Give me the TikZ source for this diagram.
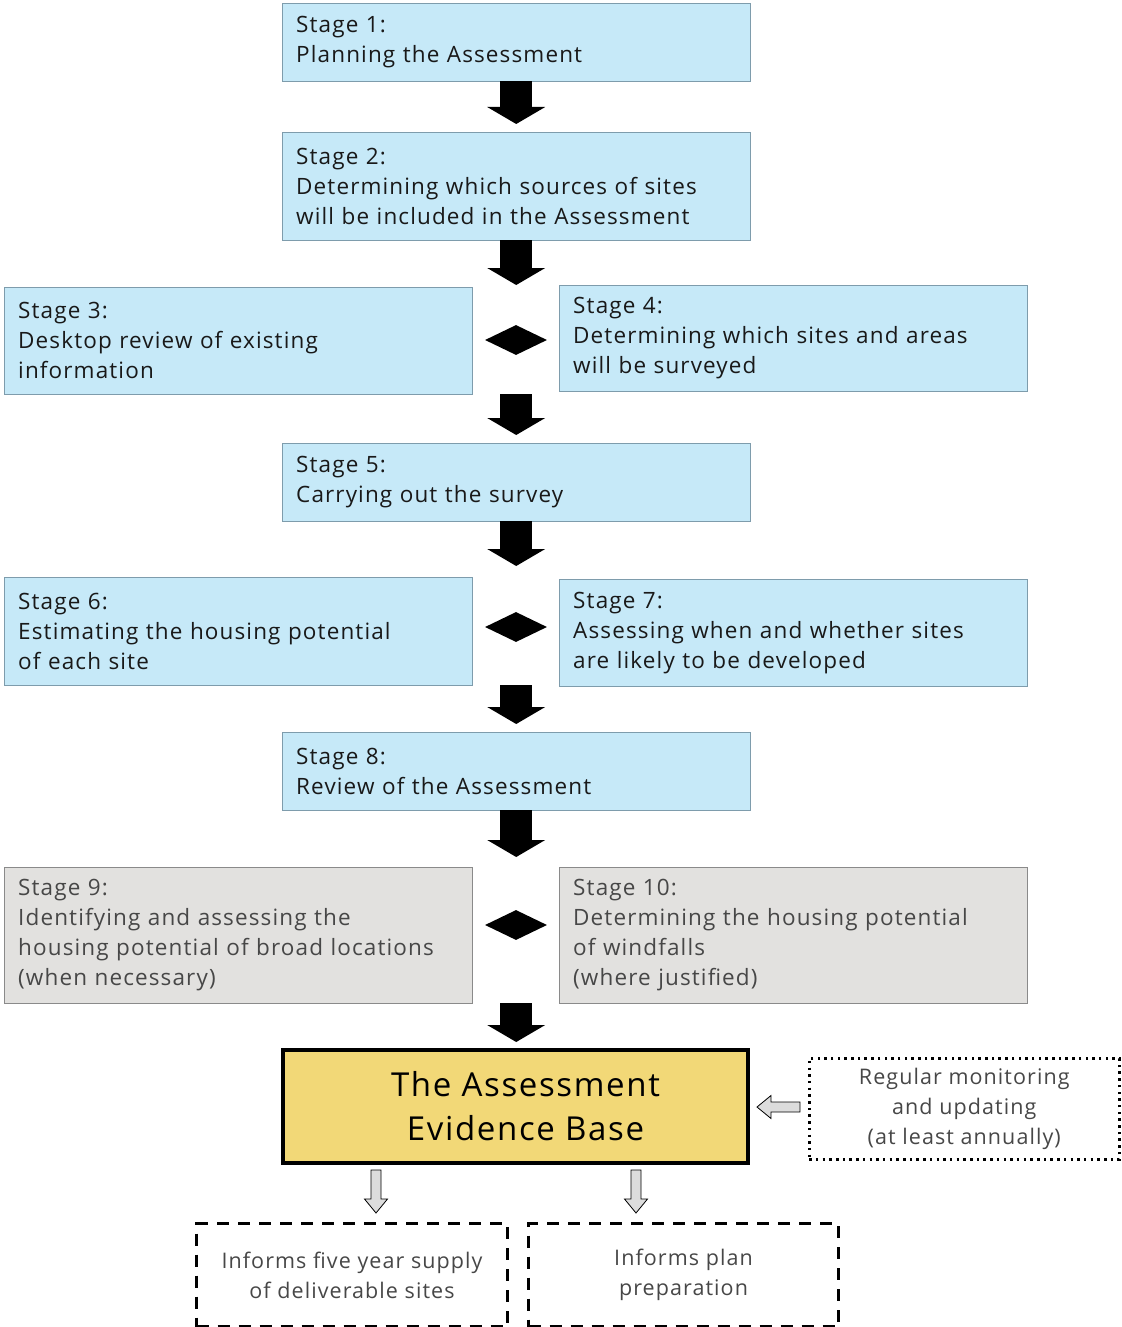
\documentclass[tikz,border=0pt]{standalone}
\usepackage{fontspec}
\setmainfont[LetterSpace=5]{Open Sans}
\usetikzlibrary{positioning,calc,arrows.meta,shapes.geometric}
\definecolor{stageblue}{HTML}{C6E9F8}
\definecolor{stageedge}{HTML}{7E9CAC}
\definecolor{laterfill}{HTML}{E2E1DF}
\definecolor{lateredge}{HTML}{8A8A8A}
\definecolor{basefill}{HTML}{F2D877}
\definecolor{hollowfill}{HTML}{DCDCDC}

\begin{document}
\begin{tikzpicture}[x=1pt,y=1pt,
  stage/.style={draw=stageedge, fill=stageblue, anchor=north west, align=left,
    text width=440pt, inner xsep=14pt, inner ysep=0pt, text=black!90,
    font=\fontsize{22.5}{30}\selectfont},
  later/.style={stage, draw=lateredge, fill=laterfill, text=black!72},
  fat/.style={line width=32pt, -{Triangle[width=58pt,length=17pt,line width=0pt]}},
  link/.style={shape=diamond, fill=black, minimum width=62pt, minimum height=30pt, inner sep=0pt},
  outcome/.style={anchor=north west, align=center, text=black!72, font=\fontsize{21.5}{30}\selectfont},
  hollow/.style={draw=black, fill=hollowfill, line width=0.8pt, line join=miter}]

\useasboundingbox (0,0) rectangle (1121,-1327);

\node[stage, minimum height=78pt] (s1) at (282,-3) {Stage 1:\\Planning the Assessment};
\node[stage, minimum height=108pt] (s2) at (282,-132) {Stage 2:\\Determining which sources of sites\\will be included in the Assessment};
\node[stage, minimum height=107pt] (s3) at (4,-287) {Stage 3:\\Desktop review of existing\\information};
\node[stage, minimum height=106pt] (s4) at (559,-285) {Stage 4:\\Determining which sites and areas\\will be surveyed};
\node[stage, minimum height=78pt] (s5) at (282,-443) {Stage 5:\\Carrying out the survey};
\node[stage, minimum height=108pt] (s6) at (4,-577) {Stage 6:\\Estimating the housing potential\\of each site};
\node[stage, minimum height=107pt] (s7) at (559,-579) {Stage 7:\\Assessing when and whether sites\\are likely to be developed};
\node[stage, minimum height=78pt] (s8) at (282,-732) {Stage 8:\\Review of the Assessment};
\node[later, minimum height=136pt] (s9) at (4,-867) {Stage 9:\\Identifying and assessing the\\housing potential of broad locations\\(when necessary)};
\node[later, minimum height=136pt] (s10) at (559,-867) {Stage 10:\\Determining the housing potential\\of windfalls\\(where justified)};

\node[link] (d1) at (516,-340) {};
\node[link] (d2) at (516,-627) {};
\node[link] (d3) at (516,-925) {};

\node[draw=black, line width=4pt, fill=basefill, anchor=north west, minimum width=465pt, minimum height=113pt,
  align=center, font=\fontsize{33}{44}\selectfont] (base) at (281,-1048) {\hspace*{20pt}The Assessment\\\hspace*{20pt}Evidence Base};

\node[outcome, draw=black, line width=2.5pt, dash pattern=on 2.5pt off 4.2pt, minimum width=310pt, minimum height=101pt]
  (review) at (808,-1057) {Regular monitoring\\and updating\\(at least annually)};
\node[outcome, draw=black, line width=3pt, dash pattern=on 12pt off 9pt, minimum width=311pt, minimum height=103pt]
  (supply) at (195,-1222) {Informs five year supply\\of deliverable sites};
\node[outcome, draw=black, line width=3pt, dash pattern=on 12pt off 9pt, minimum width=310pt, minimum height=103pt]
  (plan) at (527,-1222) {Informs plan\\preparation};

\draw[fat, shorten >=8pt] (s1) -- (s2);
\draw[fat] (s2.south) -- (s2.south |- s4.north);
\draw[fat, shorten >=8pt] (s2.south |- s3.south) -- (s5);
\draw[fat, shorten >=11pt] (s5.south) -- (s5.south |- s6.north);
\draw[fat, shorten >=8pt] (s5.south |- s6.south) -- (s8);
\draw[fat, shorten >=10pt] (s8.south) -- (s8.south |- s9.north);
\draw[fat, shorten >=6pt] (s8.south |- s9.south) -- (s8.south |- base.north);

\coordinate (h1) at (376,-1170);
\coordinate (h2) at (636,-1170);
\coordinate (h3) at (800,-1107);
\foreach \from/\ang in {h1/-90, h2/-90, h3/180}
  \filldraw[hollow, shift={(\from)}, rotate=\ang] (0,5) -- (29,5) -- (29,11.5) -- (43,0) -- (29,-11.5) -- (29,-5) -- (0,-5) -- cycle;

\end{tikzpicture}
\end{document}
